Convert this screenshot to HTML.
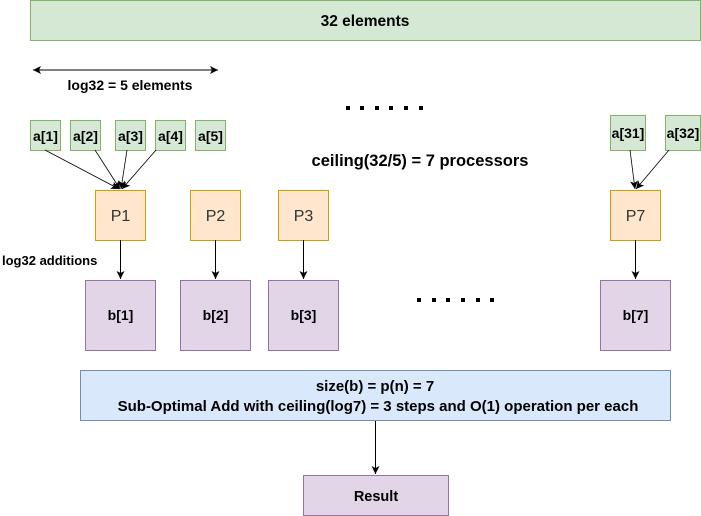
<!DOCTYPE html>
<html><head><meta charset="utf-8"><style>
html,body{margin:0;padding:0;background:#fff;width:701px;height:516px;overflow:hidden}
svg text{font-family:"Liberation Sans",Arial,sans-serif}
</style></head><body>
<svg width="701" height="516" viewBox="0 0 701 516" xmlns="http://www.w3.org/2000/svg">
<defs>
<marker id="ah" markerWidth="10" markerHeight="10" refX="8" refY="5" orient="auto" markerUnits="userSpaceOnUse">
<path d="M0,1 L8,5 L0,9 L2,5 Z" fill="#000"/></marker>
<marker id="ah2" markerWidth="10" markerHeight="10" refX="2" refY="5" orient="auto" markerUnits="userSpaceOnUse">
<path d="M10,1 L2,5 L10,9 L8,5 Z" fill="#000"/></marker>
</defs>
<rect x="30.5" y="0.5" width="670" height="40" fill="#d5e8d4" stroke="#82b366"/>
<text x="365" y="26" font-size="15.5" font-weight="bold" text-anchor="middle">32 elements</text>
<line x1="33" y1="70" x2="218" y2="70" stroke="#000" marker-end="url(#ah)" marker-start="url(#ah2)"/>
<text x="130" y="90" font-size="14" font-weight="bold" text-anchor="middle">log32 = 5 elements</text>
<g fill="#d5e8d4" stroke="#82b366">
<rect x="30.5" y="120.5" width="30" height="30"/><rect x="70.5" y="120.5" width="30" height="30"/>
<rect x="115.5" y="120.5" width="30" height="30"/><rect x="155.5" y="120.5" width="30" height="30"/>
<rect x="195.5" y="120.5" width="30" height="30"/>
<rect x="610.5" y="115.5" width="35" height="35"/><rect x="665.5" y="115.5" width="35" height="35"/>
</g>
<g font-size="14" font-weight="bold" text-anchor="middle">
<text x="45.5" y="141">a[1]</text><text x="85.5" y="141">a[2]</text><text x="130.5" y="141">a[3]</text>
<text x="170.5" y="141">a[4]</text><text x="210.5" y="141">a[5]</text>
<text x="628" y="138">a[31]</text><text x="683" y="138">a[32]</text>
</g>
<g stroke="#000" stroke-width="0.8">
<line x1="45" y1="150" x2="119" y2="189" marker-end="url(#ah)"/>
<line x1="95" y1="150" x2="120" y2="189" marker-end="url(#ah)"/>
<line x1="127" y1="150" x2="121" y2="189" marker-end="url(#ah)"/>
<line x1="156" y1="150" x2="122" y2="189" marker-end="url(#ah)"/>
<line x1="630" y1="150" x2="635" y2="189" marker-end="url(#ah)"/>
<line x1="669" y1="150" x2="636" y2="189" marker-end="url(#ah)"/>
</g>
<g fill="#000">
<rect x="346" y="106" width="4" height="4"/><rect x="360" y="106" width="4" height="4"/><rect x="375" y="106" width="4" height="4"/>
<rect x="389" y="106" width="4" height="4"/><rect x="404" y="106" width="4" height="4"/><rect x="419" y="106" width="4" height="4"/>
<rect x="417" y="298" width="4" height="4"/><rect x="432" y="298" width="4" height="4"/><rect x="446" y="298" width="4" height="4"/>
<rect x="461" y="298" width="4" height="4"/><rect x="476" y="298" width="4" height="4"/><rect x="490" y="298" width="4" height="4"/>
</g>
<text x="420" y="166" font-size="16.5" font-weight="bold" text-anchor="middle">ceiling(32/5) = 7 processors</text>
<g fill="#ffe6cc" stroke="#d79b00">
<rect x="95.5" y="190.5" width="50" height="50"/><rect x="190.5" y="190.5" width="50" height="50"/>
<rect x="278.5" y="190.5" width="50" height="50"/><rect x="610.5" y="190.5" width="50" height="50"/>
</g>
<g font-size="16" text-anchor="middle" fill="#333">
<text x="120.5" y="221">P1</text><text x="215.5" y="221">P2</text><text x="303.5" y="221">P3</text><text x="635.5" y="221">P7</text>
</g>
<text x="2" y="265" font-size="13" font-weight="bold">log32 additions</text>
<g stroke="#000">
<line x1="120.5" y1="240" x2="120.5" y2="279" marker-end="url(#ah)"/>
<line x1="215.5" y1="240" x2="215.5" y2="279" marker-end="url(#ah)"/>
<line x1="303.5" y1="240" x2="303.5" y2="279" marker-end="url(#ah)"/>
<line x1="635.5" y1="240" x2="635.5" y2="279" marker-end="url(#ah)"/>
<line x1="375.5" y1="420" x2="375.5" y2="474" marker-end="url(#ah)"/>
</g>
<g fill="#e1d5e7" stroke="#9673a6">
<rect x="85.5" y="280.5" width="70" height="70"/><rect x="180.5" y="280.5" width="70" height="70"/>
<rect x="268.5" y="280.5" width="70" height="70"/><rect x="600.5" y="280.5" width="70" height="70"/>
<rect x="303.5" y="475.5" width="145" height="40"/>
</g>
<g font-size="14" font-weight="bold" text-anchor="middle">
<text x="120.5" y="320">b[1]</text><text x="215.5" y="320">b[2]</text><text x="303.5" y="320">b[3]</text><text x="635.5" y="320">b[7]</text>
</g>
<text x="376" y="501" font-size="14.5" font-weight="bold" text-anchor="middle">Result</text>
<rect x="80.5" y="370.5" width="590" height="50" fill="#dae8fc" stroke="#6c8ebf"/>
<g font-size="15" font-weight="bold" text-anchor="middle">
<text x="375" y="391">size(b) = p(n) = 7</text>
<text x="378" y="411">Sub-Optimal Add with ceiling(log7) = 3 steps and O(1) operation per each</text>
</g>
</svg>
</body></html>
